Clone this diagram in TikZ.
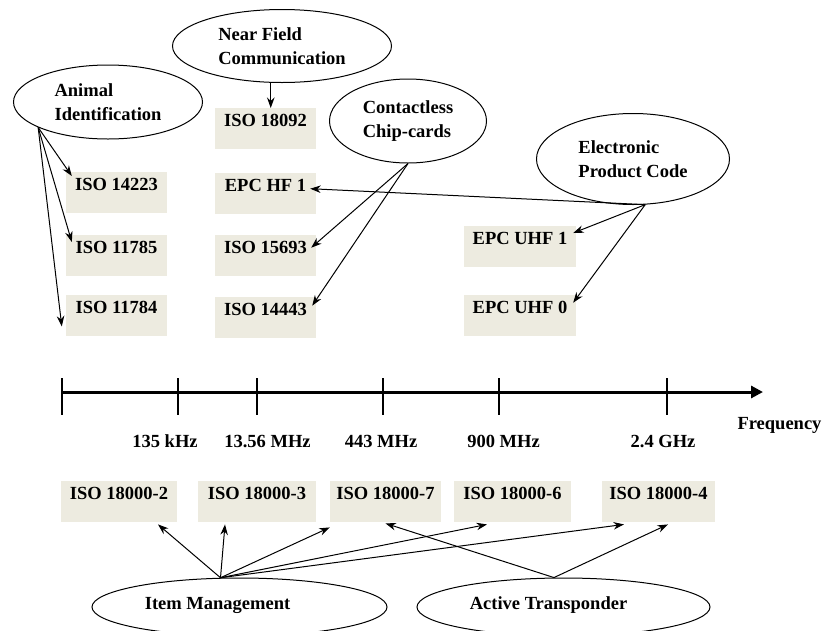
\documentclass[tikz,border=0pt]{standalone}
\usepackage{fontspec}
\setmainfont{Liberation Serif}
\usetikzlibrary{shapes.geometric,arrows.meta}
\definecolor{boxfill}{RGB}{237,235,224}
\tikzset{
 isobox/.style={fill=boxfill,inner sep=0pt,anchor=north,minimum width=#1,
  text height=18pt,text depth=23pt},
 isobox/.default=101pt,
 usecase/.style={draw,ellipse,line width=1pt,inner sep=0pt,align=left},
 link/.style={->,line width=1pt}
}
\begin{document}
\begin{tikzpicture}[x=1pt,y=-1pt,>={Stealth[length=10.5pt,width=7.5pt]},
 every node/.style={font=\fontsize{18.5}{24}\selectfont\bfseries}]
 \useasboundingbox (0,0) rectangle (822,630);
 \clip (0,0) rectangle (822,630);
 % application areas
 \node[usecase,minimum width=189pt,minimum height=74pt] (anim) at (108,102) {Animal\\Identification};
 \node[usecase,minimum width=219pt,minimum height=73pt] (nfc) at (282,46) {Near Field\\Communication};
 \node[usecase,minimum width=157pt,minimum height=84pt] (cc) at (408,121) {Contactless\\Chip-cards};
 \node[usecase,minimum width=193pt,minimum height=91pt] (epc) at (633,159) {Electronic\\Product Code};
 \node[usecase,minimum width=295pt,minimum height=58pt,
  label={[xshift=-22pt,yshift=2pt]center:Item Management}] (item) at (239.5,607) {};
 \node[usecase,minimum width=293pt,minimum height=58pt,
  label={[xshift=-15pt,yshift=2pt]center:Active Transponder}] (active) at (563.5,607) {};
 % standards
 \node[isobox] (iso14223) at (116.5,172) {ISO 14223};
 \node[isobox] (iso11785) at (116.5,235) {ISO 11785};
 \node[isobox] (iso11784) at (116.5,295) {ISO 11784};
 \node[isobox] (iso18092) at (265.5,108) {ISO 18092};
 \node[isobox] (epchf) at (265.5,173) {EPC HF 1};
 \node[isobox] (iso15693) at (265.5,235) {ISO 15693};
 \node[isobox] (iso14443) at (265.5,297) {ISO 14443};
 \node[isobox=112pt] (epcuhfa) at (520,226) {EPC UHF 1};
 \node[isobox=112pt] (epcuhfz) at (520,295) {EPC UHF 0};
 \node[isobox=116pt] (s2) at (119,481) {ISO 18000-2};
 \node[isobox=118pt] (s3) at (257,481) {ISO 18000-3};
 \node[isobox=111pt] (s7) at (385.5,481) {ISO 18000-7};
 \node[isobox=117pt] (s6) at (512.5,481) {ISO 18000-6};
 \node[isobox=113pt] (s4) at (658.5,481) {ISO 18000-4};
 % frequency axis
 \draw[-{Triangle[length=12pt,width=12pt]},line width=3pt] (62,392) -- (763,392);
 \foreach \x in {62,178,257,383,499,667}
  \draw[line width=2pt] (\x,378) -- (\x,415);
 \foreach \x/\t [count=\i] in {165/135 kHz,267.5/13.56 MHz,381/443 MHz,503.5/900 MHz,663/2.4 GHz}
  \node[anchor=base] (freq\i) at (\x,447) {\t};
 \node[anchor=base] (freq) at (779.5,429.5) {Frequency};
 % links
 \draw[link] (anim.200) -- ([xshift=6pt,yshift=-4pt]iso14223.north west);
 \draw[link] (anim.200) -- ([xshift=6pt,yshift=-7pt]iso11785.north west);
 \draw[link] (anim.200) -- ([xshift=-4pt,yshift=10pt]iso11784.south west);
 \draw[link] (nfc.253) -- (nfc.253 |- iso18092.north);
 \draw[link] (cc.south) -- ([xshift=-5pt,yshift=8pt]iso15693.east);
 \draw[link] (cc.south) -- ([xshift=-4pt,yshift=12pt]iso14443.east);
 \draw[link] (epc.285) -- ([xshift=-6pt,yshift=5pt]epchf.east);
 \draw[link] (epc.285) -- ([xshift=-3pt,yshift=-7pt]epcuhfa.north east);
 \draw[link] (epc.285) -- ([xshift=-3pt,yshift=13pt]epcuhfz.east);
 \foreach \t/\s in {s2/39,s3/-32,s6/-25.5,s4/-34.5}
  \draw[link] (item.123) -- ([xshift=\s pt,yshift=-2pt]\t.south);
 \draw[link] (item.123) -- ([yshift=-5pt]s7.south west);
 \draw[link] (active.108) -- ([yshift=-1pt]s7.south);
 \draw[link] (active.108) -- ([xshift=9.5pt,yshift=-2pt]s4.south);
\end{tikzpicture}
\end{document}
